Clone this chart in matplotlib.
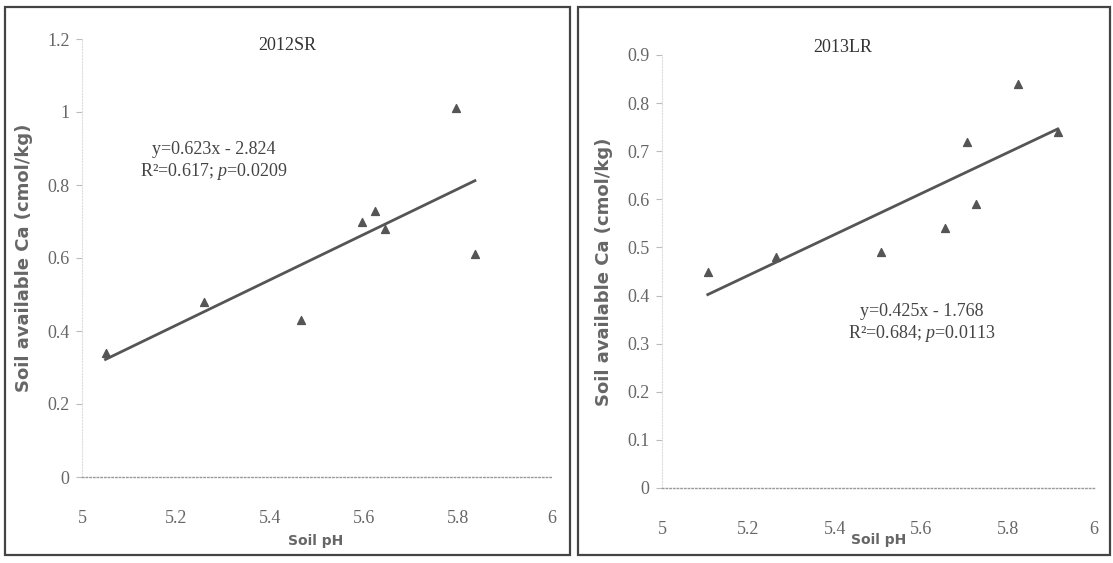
import matplotlib
matplotlib.use("Agg")
import matplotlib.pyplot as plt
from matplotlib.patches import Rectangle
import numpy as np

# 2012SR
ph_sr = [5.05, 5.26, 5.465, 5.595, 5.624, 5.645, 5.795, 5.836]
ca_sr = [0.34, 0.48, 0.43, 0.70, 0.73, 0.68, 1.01, 0.61]
slope_sr, icpt_sr = 0.623, -2.824
eq_sr = "y=0.623x - 2.824\nR\u00b2=0.617; $p$=0.0209"

# 2013LR
ph_lr = [5.106, 5.264, 5.506, 5.656, 5.706, 5.726, 5.825, 5.916]
ca_lr = [0.45, 0.48, 0.49, 0.54, 0.72, 0.59, 0.84, 0.74]
slope_lr, icpt_lr = 0.425, -1.768
eq_lr = "y=0.425x - 1.768\nR\u00b2=0.684; $p$=0.0113"

xticks = [5, 5.2, 5.4, 5.6, 5.8, 6]
xlabels = ["5", "5.2", "5.4", "5.6", "5.8", "6"]
yticks_sr = [0, 0.2, 0.4, 0.6, 0.8, 1, 1.2]
ylabels_sr = ["0", "0.2", "0.4", "0.6", "0.8", "1", "1.2"]
yticks_lr = [0, 0.1, 0.2, 0.3, 0.4, 0.5, 0.6, 0.7, 0.8, 0.9]
ylabels_lr = ["0", "0.1", "0.2", "0.3", "0.4", "0.5", "0.6", "0.7", "0.8", "0.9"]

plt.rcParams['mathtext.fontset'] = 'custom'
plt.rcParams['mathtext.it'] = 'Liberation Serif:italic'
plt.rcParams['mathtext.rm'] = 'Liberation Serif'

W, H = 1113, 563
fig = plt.figure(figsize=(W / 100, H / 100), dpi=100)

# panel frames
for x0, x1 in [(5, 570), (578, 1110)]:
    fig.patches.append(Rectangle((x0 / W, 1 - 555 / H), (x1 - x0) / W, 548 / H,
                                 transform=fig.transFigure, fill=False,
                                 edgecolor='#444444', linewidth=1.6))

serif = 'Liberation Serif'
tick_col = '#666666'


def fig_text(xy, s, **kw):
    fig.text(xy[0] / W, 1 - xy[1] / H, s, ha='center', va='center', **kw)


def panel(rect, ph, ca, slope, icpt, yt, yl, ymax, title, title_xy, eq, eq_xy, xl_xy):
    ax = fig.add_axes(rect)
    ax.scatter(ph, ca, marker='^', s=32, color='#555555', zorder=3)
    xs = np.array([min(ph), max(ph)])
    ax.plot(xs, slope * xs + icpt, color='#555555', linewidth=2, zorder=2)
    ax.set_xlim(5, 6)
    ax.set_ylim(0, ymax)
    ax.set_xticks(xticks)
    ax.set_xticklabels(xlabels, family=serif, fontsize=13, color=tick_col)
    ax.set_yticks(yt)
    ax.set_yticklabels(yl, family=serif, fontsize=13, color=tick_col)
    ax.tick_params(axis='y', length=4, color='#bbbbbb', pad=5)
    ax.tick_params(axis='x', length=0, pad=24)
    for s in ['top', 'right']:
        ax.spines[s].set_visible(False)
    ax.spines['left'].set_color('#dddddd')
    ax.spines['left'].set_linestyle(':')
    ax.spines['bottom'].set_color('#999999')
    ax.spines['bottom'].set_linestyle(':')
    ax.spines['bottom'].set_linewidth(1)
    fig_text(title_xy, title, family=serif, fontsize=13, color='#333333')
    fig_text(eq_xy, eq, family=serif, fontsize=13, color='#444444', linespacing=1.2)
    fig_text(xl_xy, "Soil pH", family='DejaVu Sans', fontsize=10,
             color='#666666', fontweight='bold')
    ax.set_ylabel("Soil available Ca (cmol/kg)", family='DejaVu Sans',
                  fontsize=13, fontweight='bold', color='#666666', labelpad=10)
    return ax


ax1 = panel([82 / W, 1 - 477 / H, 470 / W, 438 / H], ph_sr, ca_sr, slope_sr, icpt_sr,
            yticks_sr, ylabels_sr, 1.2, "2012SR", (287, 46), eq_sr, (214, 162), (316, 541))
ax2 = panel([662 / W, 1 - 488 / H, 432 / W, 433 / H], ph_lr, ca_lr, slope_lr, icpt_lr,
            yticks_lr, ylabels_lr, 0.9, "2013LR", (843, 47), eq_lr, (922, 324), (879, 540))

fig.savefig("out.png", dpi=100)
